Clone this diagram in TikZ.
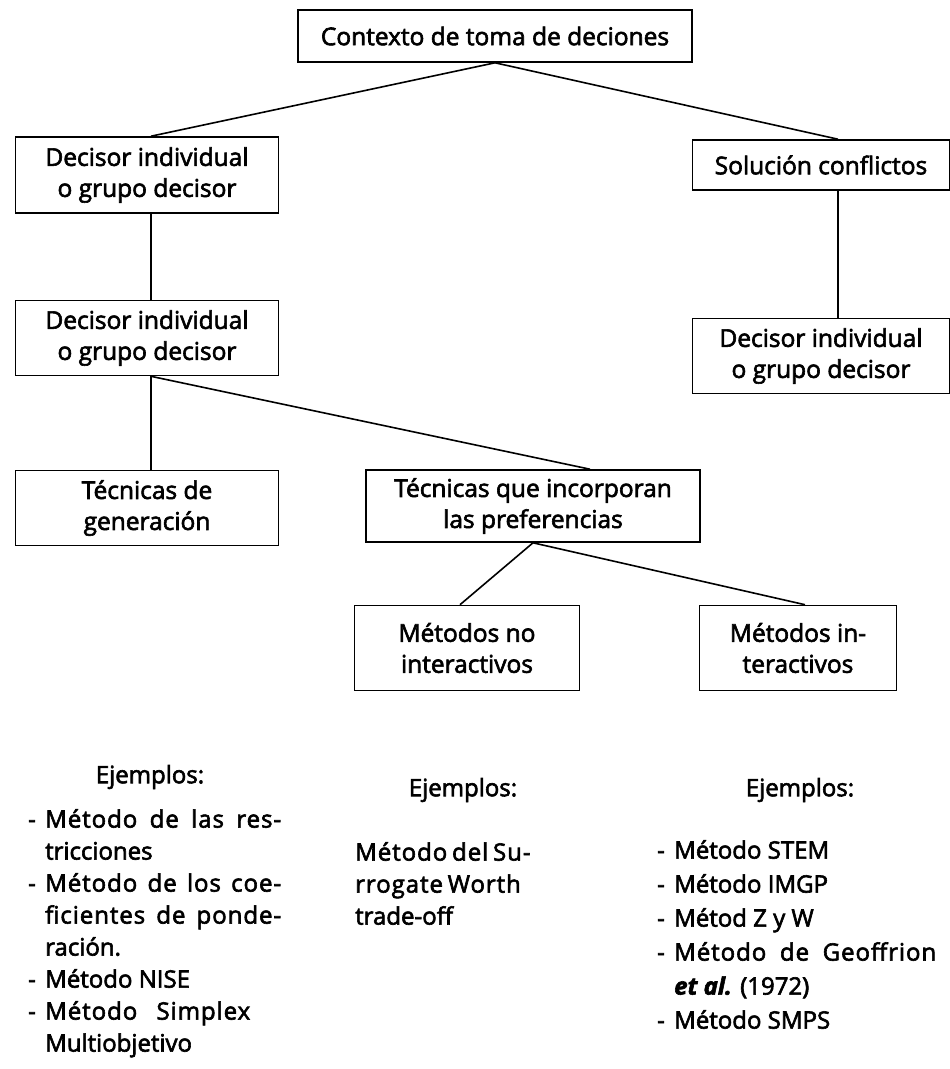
\documentclass[tikz,border=0pt]{standalone}
\usepackage{fontspec}
\setmainfont{Open Sans}
\newfontfamily\semi{Open Sans}[FakeBold=2.5]
\usetikzlibrary{positioning}

\newcommand{\gu}{\makebox[17pt][l]{-}}
\newcommand{\sg}{\hspace*{17pt}}
\newcommand{\estira}[2]{\makebox[#1][s]{\addfontfeatures{LetterSpace=4}#2}}

\tikzset{
  caja/.style={draw, line width=1.6pt, align=center, inner sep=2pt,
    font=\semi\fontsize{24.5}{31}\selectfont},
  rama/.style={line width=1.6pt},
  titulo/.style={font=\semi\fontsize{24}{28}\selectfont},
  texto/.style={align=left, inner sep=0pt, anchor=north west,
    font=\semi\fontsize{24}{32}\selectfont}
}

\begin{document}
\begin{tikzpicture}[x=1pt, y=-1pt]
\useasboundingbox (0,0) rectangle (950,1069);

% nivel 1
\node[caja, minimum width=394pt, minimum height=52pt] (ctx) at (495,36) {Contexto de toma de deciones};

% nivel 2
\node[caja, minimum width=263pt, minimum height=76pt] (dec1) at (147,175) {Decisor individual\\o grupo decisor};
\node[caja, minimum width=257pt, minimum height=50pt] (sol) at (821,165) {Solución conflictos};

% nivel 3
\node[caja, minimum width=263pt, minimum height=75pt] (dec2) at (147,338) {Decisor individual\\o grupo decisor};
\node[caja, minimum width=257pt, minimum height=75pt] (dec3) at (821,356) {Decisor individual\\o grupo decisor};

% nivel 4
\node[caja, minimum width=263pt, minimum height=75pt] (gen) at (147,508) {Técnicas de\\generación};
\node[caja, minimum width=334pt, minimum height=72pt] (pref) at (533,506) {Técnicas que incorporan\\las preferencias};

% nivel 5
\node[caja, minimum width=225pt, minimum height=85pt] (noint) at (467,648) {Métodos no\\interactivos};
\node[caja, minimum width=197pt, minimum height=85pt] (inter) at (798,648) {Métodos in-\\teractivos};

% ramas
\draw[rama] (ctx.south) -- ([xshift=4pt]dec1.north);
\draw[rama] (ctx.south) -- ([xshift=17pt]sol.north);
\draw[rama] ([xshift=4pt]dec1.south) -- ([xshift=4pt]dec2.north);
\draw[rama] ([xshift=17pt]sol.south) -- ([xshift=17pt]dec3.north);
\draw[rama] ([xshift=4pt]dec2.south) -- ([xshift=4pt]gen.north);
\draw[rama] ([xshift=4pt]dec2.south) -- ([xshift=57pt]pref.north);
\draw[rama] (pref.south) -- ([xshift=-7pt]noint.north);
\draw[rama] (pref.south) -- ([xshift=7pt]inter.north);

% ejemplos
\node[titulo] (ej1) at (150,777) {Ejemplos:};
\node[titulo] (ej2) at (463,790) {Ejemplos:};
\node[titulo] (ej3) at (800,790) {Ejemplos:};

\node[texto] (lista1) at (28,809) {%
  \gu\estira{236pt}{Método de las res-}\\
  \sg tricciones\\
  \gu\estira{236pt}{Método de los coe-}\\
  \sg\estira{236pt}{ficientes de ponde-}\\
  \sg ración.\\
  \gu Método NISE\\
  \gu\estira{205pt}{Método Simplex}\\
  \sg Multiobjetivo};

\node[texto] (lista2) at (355,842) {%
  \estira{158pt}{Método del Su-}\\
  \estira{158pt}{rrogate Worth}\\
  trade-off};

\node[texto, font=\semi\fontsize{24}{34}\selectfont] (lista3) at (657,840) {%
  \gu Método STEM\\
  \gu Método IMGP\\
  \gu Métod Z y W\\
  \gu\estira{262pt}{Método de Geoffrion}\\
  \sg\textbf{\itshape et al.} (1972)\\
  \gu Método SMPS};
\end{tikzpicture}
\end{document}
